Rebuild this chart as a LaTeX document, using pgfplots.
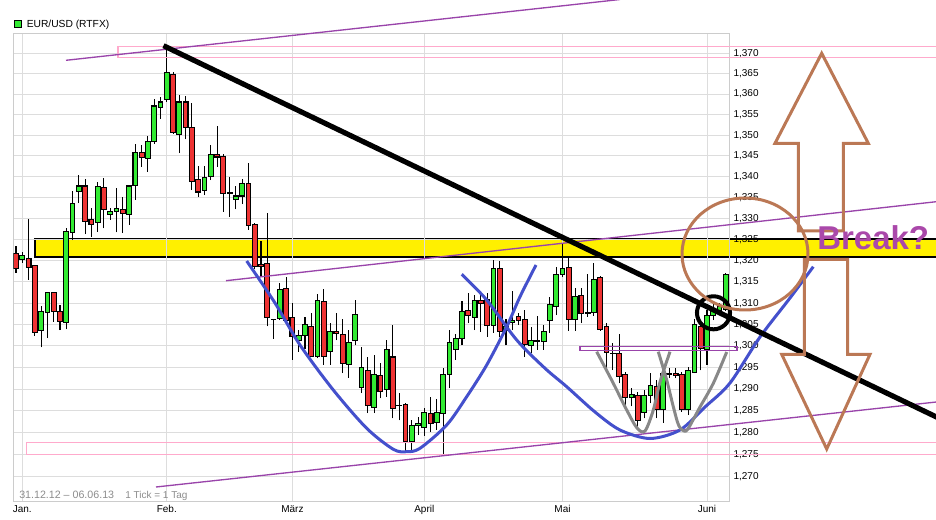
\documentclass[border=0pt]{standalone}
\usepackage{fontspec}
\setmainfont{Liberation Sans}
\usepackage{pgfplots}
\usepackage{pgfplotstable}
\pgfplotsset{compat=1.18}
\definecolor{cgreen}{RGB}{50,235,50}
\definecolor{cred}{RGB}{238,51,51}
\definecolor{cyellow}{RGB}{255,240,0}
\definecolor{cblue}{RGB}{68,80,204}
\definecolor{cpurple}{RGB}{153,68,170}
\definecolor{cbreak}{RGB}{170,72,170}
\definecolor{cpink}{RGB}{255,170,204}
\definecolor{cbrown}{RGB}{187,120,85}
\definecolor{cgray}{RGB}{136,136,136}
\definecolor{cgrid}{RGB}{221,221,221}

% trading-day index (0 = 1 Jan 2013), open, high, low, close
\pgfplotstableread{
i O H L C
-1 1.3218 1.3235 1.3172 1.3182
0 1.3204 1.3221 1.3196 1.3213
1 1.3206 1.3298 1.3156 1.3184
2 1.3188 1.3190 1.3024 1.3032
3 1.3037 1.3092 1.2997 1.3080
4 1.3079 1.3126 1.3018 1.3126
5 1.3126 1.3126 1.3057 1.3080
6 1.3080 1.3096 1.3037 1.3058
7 1.3055 1.3278 1.3039 1.3269
8 1.3268 1.3366 1.3249 1.3337
9 1.3366 1.3404 1.3337 1.3378
10 1.3378 1.3394 1.3263 1.3293
11 1.3298 1.3325 1.3257 1.3286
12 1.3290 1.3388 1.3269 1.3377
13 1.3375 1.3398 1.3277 1.3321
14 1.3311 1.3325 1.3297 1.3317
15 1.3317 1.3372 1.3267 1.3325
16 1.3322 1.3352 1.3265 1.3313
17 1.3310 1.3378 1.3285 1.3378
18 1.3379 1.3479 1.3346 1.3459
19 1.3459 1.3477 1.3424 1.3447
20 1.3445 1.3499 1.3412 1.3486
21 1.3485 1.3588 1.3479 1.3571
22 1.3567 1.3594 1.3541 1.3581
23 1.3588 1.3720 1.3581 1.3653
24 1.3649 1.3653 1.3504 1.3508
25 1.3503 1.3598 1.3457 1.3581
26 1.3581 1.3596 1.3491 1.3520
27 1.3520 1.3578 1.3368 1.3388
28 1.3394 1.3427 1.3352 1.3364
29 1.3367 1.3425 1.3357 1.3399
30 1.3400 1.3477 1.3392 1.3454
31 1.3454 1.3522 1.3424 1.3448
32 1.3449 1.3454 1.3317 1.3360
33 1.3360 1.3400 1.3305 1.3361
34 1.3346 1.3378 1.3322 1.3354
35 1.3354 1.3396 1.3335 1.3384
36 1.3384 1.3432 1.3273 1.3283
37 1.3286 1.3289 1.3182 1.3186
38 1.3192 1.3247 1.3162 1.3186
39 1.3194 1.3314 1.3046 1.3067
40 1.3062 1.3064 1.3017 1.3061
41 1.3065 1.3147 1.3060 1.3133
42 1.3135 1.3162 1.3050 1.3060
43 1.3066 1.3100 1.2967 1.3023
44 1.3013 1.3037 1.2987 1.3025
45 1.3025 1.3068 1.2994 1.3049
46 1.3046 1.3076 1.2975 1.2976
47 1.2976 1.3121 1.2971 1.3107
48 1.3104 1.3133 1.2956 1.2975
49 1.2988 1.3053 1.2956 1.3034
50 1.3034 1.3076 1.3013 1.3028
51 1.3027 1.3064 1.2937 1.2960
52 1.2957 1.3037 1.2926 1.3008
53 1.3013 1.3107 1.3002 1.3074
54 1.2904 1.2998 1.2890 1.2950
55 1.2943 1.2975 1.2844 1.2863
56 1.2858 1.2979 1.2844 1.2934
57 1.2931 1.2960 1.2878 1.2894
58 1.2898 1.3014 1.2882 1.2991
59 1.2974 1.3049 1.2832 1.2855
60 1.2862 1.2890 1.2828 1.2861
61 1.2865 1.2867 1.2756 1.2779
62 1.2779 1.2828 1.2756 1.2815
63 1.2815 1.2836 1.2794 1.2821
64 1.2811 1.2856 1.2793 1.2846
65 1.2844 1.2882 1.2802 1.2821
66 1.2822 1.2876 1.2806 1.2845
67 1.2844 1.2948 1.2748 1.2934
68 1.2934 1.3037 1.2902 1.3008
69 1.2992 1.3029 1.2967 1.3017
70 1.3017 1.3104 1.3002 1.3080
71 1.3082 1.3123 1.3053 1.3070
72 1.3066 1.3119 1.3037 1.3107
73 1.3107 1.3127 1.3033 1.3100
74 1.3109 1.3124 1.3021 1.3047
75 1.3047 1.3202 1.3031 1.3181
76 1.3181 1.3200 1.3021 1.3033
77 1.3037 1.3064 1.3002 1.3046
78 1.3054 1.3128 1.3037 1.3060
79 1.3068 1.3076 1.3049 1.3060
80 1.3062 1.3084 1.2974 1.3004
81 1.3002 1.3045 1.2983 1.3013
82 1.3011 1.3070 1.2991 1.3012
83 1.3010 1.3049 1.2991 1.3033
84 1.3060 1.3115 1.3031 1.3096
85 1.3093 1.3186 1.3072 1.3168
86 1.3167 1.3241 1.3161 1.3182
87 1.3185 1.3206 1.3035 1.3062
88 1.3062 1.3135 1.3035 1.3115
89 1.3118 1.3135 1.3053 1.3075
90 1.3075 1.3169 1.3068 1.3078
91 1.3078 1.3194 1.3070 1.3156
92 1.3161 1.3163 1.3035 1.3039
93 1.3046 1.3053 1.2944 1.2984
94 1.2983 1.3006 1.2944 1.2982
95 1.2983 1.3029 1.2913 1.2930
96 1.2933 1.2940 1.2852 1.2881
97 1.2881 1.2902 1.2860 1.2888
98 1.2884 1.2894 1.2813 1.2828
99 1.2845 1.2898 1.2832 1.2886
100 1.2884 1.2936 1.2867 1.2907
101 1.2905 1.2921 1.2832 1.2852
102 1.2853 1.2948 1.2822 1.2936
103 1.2933 1.2948 1.2925 1.2936
104 1.2936 1.2948 1.2925 1.2931
105 1.2934 1.2940 1.2848 1.2852
106 1.2852 1.2952 1.2840 1.2943
107 1.2938 1.3062 1.2937 1.3049
108 1.3046 1.3058 1.2943 1.2994
109 1.2992 1.3084 1.2956 1.3072
110 1.3070 1.3100 1.3060 1.3082
111 1.3084 1.3100 1.3075 1.3092
112 1.3086 1.3170 1.3082 1.3168
}\candles
\pgfplotstablegetrowsof{\candles}
\pgfmathtruncatemacro\lastrow{\pgfplotsretval-1}

% overlay axis in image pixels (936 x 520, y downwards), 1px = 0.75pt
\pgfplotsset{pix/.style={at={(0pt,0pt)}, anchor=south west, scale only axis,
  width=702pt, height=390pt, xmin=0, xmax=936, ymin=0, ymax=520,
  y dir=reverse, hide axis, clip=false}}

\newcommand\tenpx{\fontsize{7.5pt}{9pt}\selectfont}

\begin{document}
\begin{tikzpicture}
% ---- underlay: yellow resistance band
\begin{axis}[pix]
\addplot[fill=cyellow, draw=black, line width=1.8pt] coordinates {(942,238.8) (34.8,238.8) (34.8,257.2) (942,257.2)};
\end{axis}

% ---- main price axis
\begin{axis}[
  at={(9.975pt,13.725pt)}, anchor=south west,
  scale only axis, width=537pt, height=351.3pt,
  xmin=-1.433, xmax=112.55,
  ymode=log, ymin=1.26422, ymax=1.37492,
  axis line style={draw=black!20, line width=0.75pt},
  xtick={0,23,43,64,86,109},
  xticklabels={Jan.,Feb.,März,April,Mai,Juni},
  ytick={1.270,1.275,1.280,1.285,1.290,1.295,1.300,1.305,1.310,1.315,1.320,1.325,1.330,1.335,1.340,1.345,1.350,1.355,1.360,1.365,1.370},
  yticklabels={{1,270},{1,275},{1,280},{1,285},{1,290},{1,295},{1,300},{1,305},{1,310},{1,315},{1,320},{1,325},{1,330},{1,335},{1,340},{1,345},{1,350},{1,355},{1,360},{1,365},{1,370}},
  yticklabel pos=right,
  yminorticks=false, xminorticks=false,
  major tick length=0pt,
  xmajorgrids, ymajorgrids,
  major grid style={draw=cgrid, line width=0.75pt},
  tick label style={font=\tenpx, text=black},
  xticklabel style={anchor=north, inner sep=0pt, yshift=-2.6pt},
  yticklabel style={anchor=west, inner sep=0pt, xshift=3pt},
]
\pgfplotsforeachungrouped \rr in {0,...,\lastrow}{%
  \pgfplotstablegetelem{\rr}{i}\of{\candles}\let\ci\pgfplotsretval
  \pgfplotstablegetelem{\rr}{O}\of{\candles}\let\co\pgfplotsretval
  \pgfplotstablegetelem{\rr}{H}\of{\candles}\let\chh\pgfplotsretval
  \pgfplotstablegetelem{\rr}{L}\of{\candles}\let\cl\pgfplotsretval
  \pgfplotstablegetelem{\rr}{C}\of{\candles}\let\cc\pgfplotsretval
  \pgfmathsetmacro\xl{\ci-0.38}%
  \pgfmathsetmacro\xr{\ci+0.38}%
  \ifdim\cc pt<\co pt \def\ccol{cred}\else\def\ccol{cgreen}\fi
  \edef\temp{%
    \noexpand\addplot[draw=black, line width=0.8pt] coordinates {(\ci,\cl) (\ci,\chh)};
    \noexpand\addplot[draw=black, fill=\ccol, line width=0.8pt] coordinates {(\xl,\co) (\xr,\co) (\xr,\cc) (\xl,\cc)} -- cycle;
  }\temp
}
\end{axis}

% ---- overlay: drawn analysis
\begin{axis}[pix]
% pink boxes
\addplot[draw=cpink, line width=0.8pt] coordinates {(945,46.3) (118,46.3) (118,57.3) (945,57.3)};
\addplot[draw=cpink, line width=0.8pt] coordinates {(945,442.5) (26.3,442.5) (26.3,454.2) (945,454.2)};
% purple channel lines
\addplot[draw=cpurple, line width=1pt] coordinates {(66,60.3) (620,-0.5)};
\addplot[draw=cpurple, line width=1pt] coordinates {(226,280.7) (940,201.3)};
\addplot[draw=cpurple, line width=1pt] coordinates {(156,487) (940,401.6)};
\addplot[draw=cpurple, line width=0.9pt] coordinates {(580,346.7) (737,346.7) (737,350.7) (580,350.7)} -- cycle;
% blue curves
\addplot[draw=cblue, line width=2.25pt, smooth] coordinates {(246.7,261) (275,303) (300,345) (333.3,390) (366.7,428.3) (393.3,449.3) (406.7,451.7) (420,448.3) (446.7,425) (466.7,396.7) (486.7,365) (506.7,326.7) (520,296.7) (536,265)};
\addplot[draw=cblue, line width=2.25pt, smooth] coordinates {(461.7,274.3) (486.7,300) (516.7,340) (545,368.3) (566.7,386.7) (595,412) (620,430) (650,438.5) (680,430) (705,407) (730,383) (760,337) (790,298) (813.3,266.7)};
% gray curves
\addplot[draw=cgray, line width=2.25pt, smooth] coordinates {(596.7,351.7) (613.3,383.3) (626.7,410) (637,428) (645,431) (653.3,410) (660,382) (670,351.7)};
\addplot[draw=cgray, line width=2.25pt, smooth] coordinates {(658.3,351.7) (666.7,380) (673.3,406.7) (679,426) (686,431) (693,420) (700,407) (713.3,383.3) (726.7,352)};
% main down trend line
\addplot[draw=black, line width=3.9pt] coordinates {(163.5,45.7) (940,418.7)};
% circles
\draw[black, line width=3pt] (axis cs:713.5,312.8) circle [radius=12.4pt];
\draw[cbrown, line width=2.25pt] (axis cs:745,254) ellipse [x radius=47.25pt, y radius=42pt];
% arrows
\addplot[draw=cbrown, line width=2.25pt, line join=miter] coordinates {(798.3,231) (798.3,143.3) (775,143.3) (821.7,53.3) (868.3,143.3) (843.3,143.3) (843.3,231)} -- cycle;
\addplot[draw=cbrown, line width=2.25pt, line join=miter] coordinates {(804.3,259.3) (847.7,259.3) (847.7,354.3) (870,354.3) (826.7,449) (781.7,354.3) (804.3,354.3)} -- cycle;
\node[anchor=base west, inner sep=0pt, text=cbreak, font=\fontsize{24.75pt}{28pt}\selectfont\bfseries] at (axis cs:817,250) {Break?};
% title and notes
\addplot[fill=cgreen, draw=black, line width=0.75pt] coordinates {(14.5,20.5) (21.5,20.5) (21.5,27.5) (14.5,27.5)} -- cycle;
\node[anchor=base west, inner sep=0pt, font=\fontsize{7.7pt}{9pt}\selectfont] at (axis cs:26.5,27.6) {EUR/USD (RTFX)};
\node[anchor=base west, inner sep=0pt, font=\fontsize{8pt}{9pt}\selectfont, text=black!45] at (axis cs:19,498.8) {31.12.12 -- 06.06.13};
\node[anchor=base west, inner sep=0pt, font=\tenpx, text=black!45] at (axis cs:125,498.8) {1 Tick = 1 Tag};
\end{axis}
\pgfresetboundingbox
\useasboundingbox (0pt,0pt) rectangle (702pt,390pt);
\end{tikzpicture}
\end{document}
